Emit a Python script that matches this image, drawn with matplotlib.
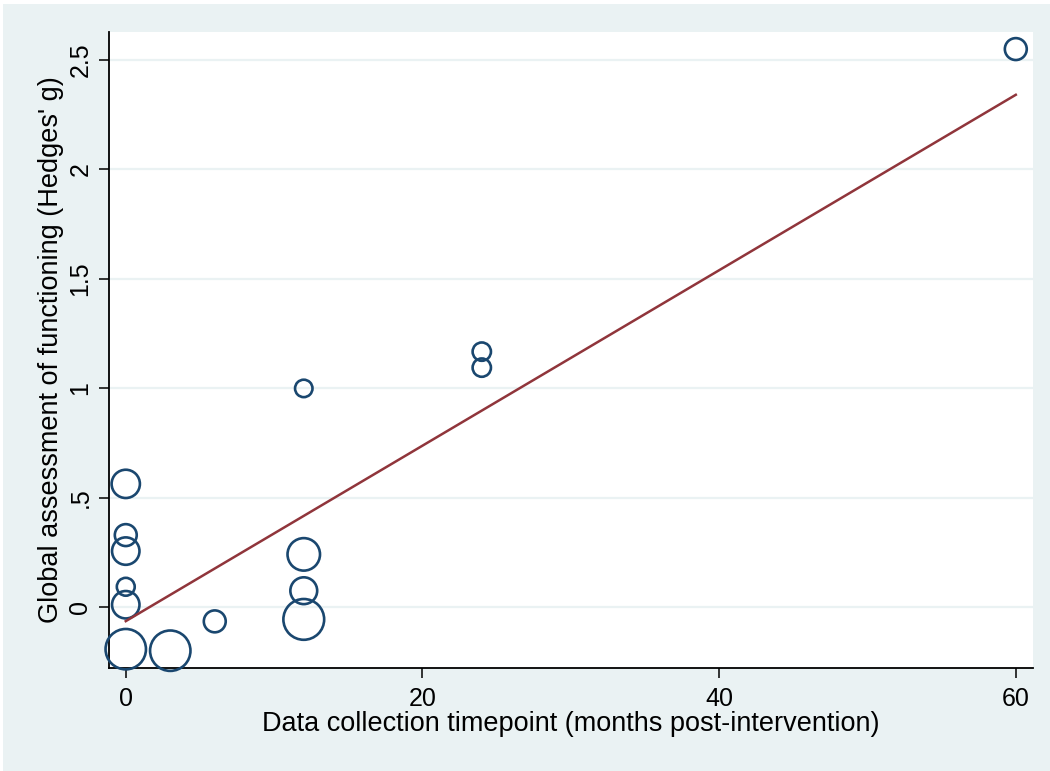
import numpy as np
import matplotlib
matplotlib.use("Agg")
import matplotlib.pyplot as plt
from matplotlib.patches import Rectangle

# months post-intervention, effect size (Hedges' g), study weight
months = [0, 0, 0, 0, 0, 0, 3, 6, 12, 12, 12, 12, 24, 24, 60]
hedges_g = [0.564, 0.330, 0.257, 0.094, 0.012, -0.191, -0.198, -0.064,
            0.242, 0.076, -0.055, 1.0, 1.168, 1.095, 2.55]
weights = [50, 30, 47, 20, 47, 102, 102, 30, 66, 45, 104, 19, 21, 21, 30]

# fitted meta-regression line
fit_intercept = -0.063
fit_slope = 0.04007

x_ticks = [0, 20, 40, 60]
y_ticks = [0, 0.5, 1, 1.5, 2, 2.5]
y_ticklabels = ["0", ".5", "1", "1.5", "2", "2.5"]

navy = "#1A476F"
maroon = "#90353B"
bg = "#EAF2F3"

plt.rcParams["font.family"] = ["Liberation Sans", "DejaVu Sans"]

W, H, DPI = 1050, 771, 100
fig = plt.figure(figsize=(W / DPI, H / DPI), dpi=DPI, facecolor=bg)
# thin white frame along the top and left edge
fig.patches.append(Rectangle((0, 1 - 4 / H), 1, 4 / H, transform=fig.transFigure,
                             facecolor="white", edgecolor="none", zorder=0))
fig.patches.append(Rectangle((0, 0), 3 / W, 1, transform=fig.transFigure,
                             facecolor="white", edgecolor="none", zorder=0))

ax = fig.add_axes([109 / W, 1 - 668 / H, (1033 - 109) / W, (668 - 32) / H])
ax.set_facecolor("white")

for yt in y_ticks:
    ax.axhline(yt, color=bg, lw=1.6, zorder=1)

# bubble radius in pixels grows with sqrt(weight)
radius_px = 2.0 * np.sqrt(np.array(weights, dtype=float))
sizes = (2 * radius_px * 72 / DPI) ** 2
ax.scatter(months, hedges_g, s=sizes, facecolors="none", edgecolors=navy,
           linewidths=1.9, zorder=3, clip_on=False)

xs = np.array([min(months), max(months)])
ax.plot(xs, fit_intercept + fit_slope * xs, color=maroon, lw=1.8, zorder=4)

ax.set_xlim(-1.13, 61.16)
ax.set_ylim(-0.277, 2.628)
ax.set_xticks(x_ticks)
ax.set_yticks(y_ticks)
ax.set_yticklabels(y_ticklabels, rotation=90, va="center")

for side in ("top", "right"):
    ax.spines[side].set_visible(False)
for side in ("left", "bottom"):
    ax.spines[side].set_linewidth(1.3)
ax.tick_params(length=7, width=1.1, labelsize=18)
ax.tick_params(axis="x", pad=7)
ax.tick_params(axis="y", pad=5)

ax.set_xlabel("Data collection timepoint (months post-intervention)",
              fontsize=19.5, labelpad=0)
ax.set_ylabel("Global assessment of functioning (Hedges' g)",
              fontsize=19.5, labelpad=3)

fig.savefig("out.png", dpi=DPI, facecolor=bg)
